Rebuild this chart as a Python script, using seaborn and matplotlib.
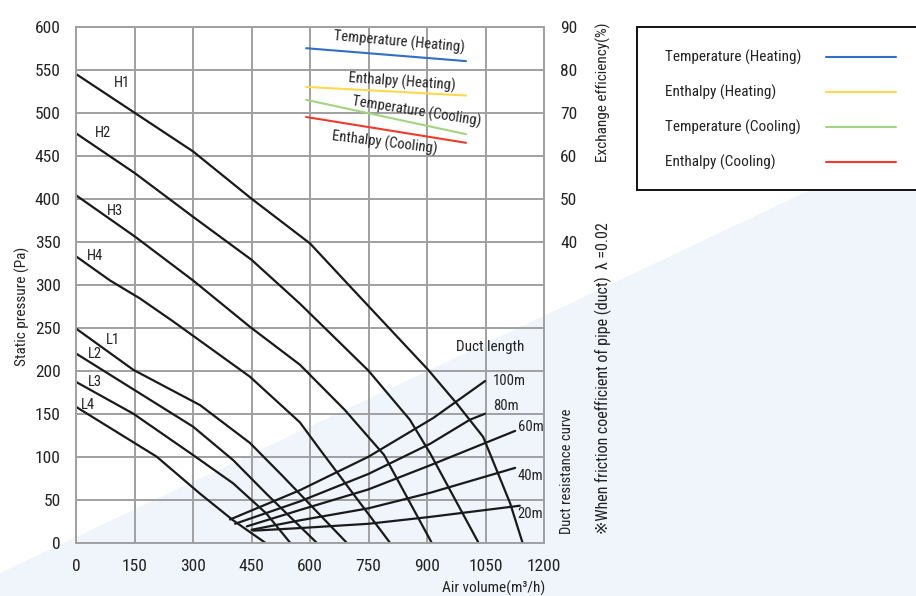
import numpy as np
import pandas as pd
import seaborn as sns
import matplotlib.pyplot as plt
from matplotlib.patches import Polygon, Rectangle
from matplotlib.lines import Line2D

sns.set_style("white")
plt.rcParams['font.family'] = ['Roboto Condensed', 'Liberation Sans Narrow', 'Roboto', 'DejaVu Sans']

# fan curves (air volume m3/h, static pressure Pa)
h1_x = [0, 150, 300, 450, 600, 711, 903, 976, 1044, 1079, 1113, 1145]
h1_y = [545, 500, 455, 400, 348, 294, 201, 162, 123, 84, 46, 0]
h2_x = [0, 150, 300, 450, 574, 750, 856, 908, 1032]
h2_y = [476, 430, 379, 329, 278, 200, 143, 104, 0]
h3_x = [0, 151, 300, 446, 574, 690, 711, 790, 912]
h3_y = [404, 356, 305, 251, 207, 154, 143, 102, 0]
h4_x = [0, 87, 164, 250, 446, 574, 626, 805]
h4_y = [333, 305, 284, 257, 193, 140, 108, 0]
l1_x = [0, 147, 318, 446, 531, 694]
l1_y = [249, 201, 160, 116, 77, 0]
l2_x = [0, 300, 403, 488, 617]
l2_y = [220, 135, 96, 57, 0]
l3_x = [0, 147, 300, 403, 488, 549]
l3_y = [187, 150, 102, 69, 34, 0]
l4_x = [0, 207, 318, 403, 485]
l4_y = [158, 100, 57, 26, 0]
fan_names = ['H1', 'H2', 'H3', 'H4', 'L1', 'L2', 'L3', 'L4']
fan_label_x = [118, 69, 100, 49, 95, 49, 49, 31]
fan_label_y = [534, 476, 386, 333, 236, 219, 187, 160]

# duct resistance curves
duct_names = ['100m', '80m', '60m', '40m', '20m']
d100_x = [395, 574, 750, 916, 1049]
d100_y = [27, 61, 100, 145, 188]
d80_x = [408, 574, 750, 908, 1010, 1049]
d80_y = [22, 48, 80, 115, 143, 150]
d60_x = [438, 574, 750, 908, 1126]
d60_y = [19, 38, 62, 90, 130]
d40_x = [450, 574, 750, 908, 1126]
d40_y = [15, 26, 40, 58, 87]
d20_x = [455, 574, 750, 908, 1138]
d20_y = [14, 17, 22, 30, 43]
duct_label_x = [1069, 1069, 1133, 1133, 1133]
duct_label_y = [188, 159, 134, 78, 33]

# exchange efficiency (%) lines
eff_names = ['Temperature (Heating)', 'Enthalpy (Heating)', 'Temperature (Cooling)', 'Enthalpy (Cooling)']
eff_x = [590, 1000]
eff_temp_heat = [85, 82]
eff_enth_heat = [76, 74]
eff_temp_cool = [73, 65]
eff_enth_cool = [69, 63]
eff_colors = ['#2f6fc4', '#ffd84d', '#9fd67e', '#f03a2a']

W, H = 916, 596
TXT = '#222222'

fig = plt.figure(figsize=(W / 100, H / 100), dpi=100)
fig.patch.set_facecolor('white')
# pale blue diagonal band in the background
fig.patches.append(Polygon([[0, 0], [1, 0], [1, 1 - 140 / H], [0, 1 - 573 / H]], closed=True,
                           transform=fig.transFigure, facecolor='#eff5fa', edgecolor='none', zorder=-10))

ax = fig.add_axes([76 / W, 1 - 542.7 / H, 468 / W, 516 / H])
ax.set_facecolor('none')

fans = [(h1_x, h1_y), (h2_x, h2_y), (h3_x, h3_y), (h4_x, h4_y),
        (l1_x, l1_y), (l2_x, l2_y), (l3_x, l3_y), (l4_x, l4_y)]
for fx, fy in fans:
    sns.lineplot(x=fx, y=fy, color='#1a1a1a', linewidth=1.6, sort=False, ax=ax)
for name, tx, ty in zip(fan_names, fan_label_x, fan_label_y):
    ax.text(tx, ty, name, fontsize=10.5, ha='center', va='center', color=TXT)

ducts = [(d100_x, d100_y), (d80_x, d80_y), (d60_x, d60_y), (d40_x, d40_y), (d20_x, d20_y)]
for dx, dy in ducts:
    sns.lineplot(x=dx, y=dy, color='#1a1a1a', linewidth=1.6, sort=False, ax=ax)
for name, tx, ty in zip(duct_names, duct_label_x, duct_label_y):
    ax.text(tx, ty, name, fontsize=10.5, ha='left', va='center', color=TXT)
ax.text(1061, 227, 'Duct length', fontsize=11, ha='center', va='center', color=TXT)

ax.set_xlim(0, 1200)
ax.set_ylim(0, 600)
ax.set_xticks(np.arange(0, 1201, 150))
ax.set_yticks(np.arange(0, 601, 50))
ax.grid(True, color='#a0a0a0', linewidth=1.4)
for s in ax.spines.values():
    s.set_color('#a0a0a0')
    s.set_linewidth(1.4)
ax.tick_params(axis='both', length=0, labelsize=12.5, colors=TXT)
ax.tick_params(axis='y', pad=11)
ax.tick_params(axis='x', pad=12)

ax2 = ax.twinx()
ax2.set_ylim(-30, 90)
ax2.set_yticks(np.arange(40, 91, 10))
ax2.tick_params(axis='y', length=0, labelsize=12.5, colors=TXT, pad=11.5)
for s in ax2.spines.values():
    s.set_visible(False)

effs = [eff_temp_heat, eff_enth_heat, eff_temp_cool, eff_enth_cool]
for name, vals, c in zip(eff_names, effs, eff_colors):
    sns.lineplot(x=eff_x, y=vals, color=c, linewidth=1.5, ax=ax2, legend=False)

# efficiency labels (in pressure units of main axes)
ax.text(828, 582, 'Temperature (Heating)', fontsize=10.5, rotation=-5, ha='center', va='center', color=TXT)
ax.text(836, 536, 'Enthalpy (Heating)', fontsize=10.5, rotation=-4, ha='center', va='center', color=TXT)
ax.text(874, 501, 'Temperature (Cooling)', fontsize=10.5, rotation=-9, ha='center', va='center', color=TXT)
ax.text(792, 465, 'Enthalpy (Cooling)', fontsize=10.5, rotation=-7, ha='center', va='center', color=TXT)

# axis titles and side notes
fig.text(22 / W, 1 - 306 / H, 'Static pressure (Pa)', rotation=90, fontsize=11,
         ha='center', va='center', color=TXT)
fig.text(545 / W, 1 - 588 / H, 'Air volume(m³/h)', fontsize=11, ha='right', va='center', color=TXT)
fig.text(603 / W, 1 - 22 / H, 'Exchange efficiency(%)', rotation=90, fontsize=11,
         ha='center', va='top', color=TXT)
fig.text(567 / W, 1 - 534 / H, 'Duct resistance curve', rotation=90, fontsize=10.5,
         ha='center', va='bottom', color=TXT)
fig.text(603 / W, 1 - 534 / H, '※When friction coefficient of pipe (duct)  λ =0.02', rotation=90,
         fontsize=11.5, ha='center', va='bottom', color=TXT)

# legend box: label on the left, line sample on the right
fig.patches.append(Rectangle((637 / W, 1 - 190 / H), 300 / W, 163 / H, transform=fig.transFigure,
                             facecolor='white', edgecolor='#111111', linewidth=1.4, zorder=5))
row_y = [57, 92, 127, 162]
for name, c, ry in zip(eff_names, eff_colors, row_y):
    fig.text(665 / W, 1 - ry / H, name, fontsize=11, ha='left', va='center', color=TXT, zorder=6)
    fig.add_artist(Line2D([826 / W, 896 / W], [1 - ry / H, 1 - ry / H], color=c, linewidth=1.5,
                          transform=fig.transFigure, zorder=6))

fig.savefig('out.png', dpi=100)
